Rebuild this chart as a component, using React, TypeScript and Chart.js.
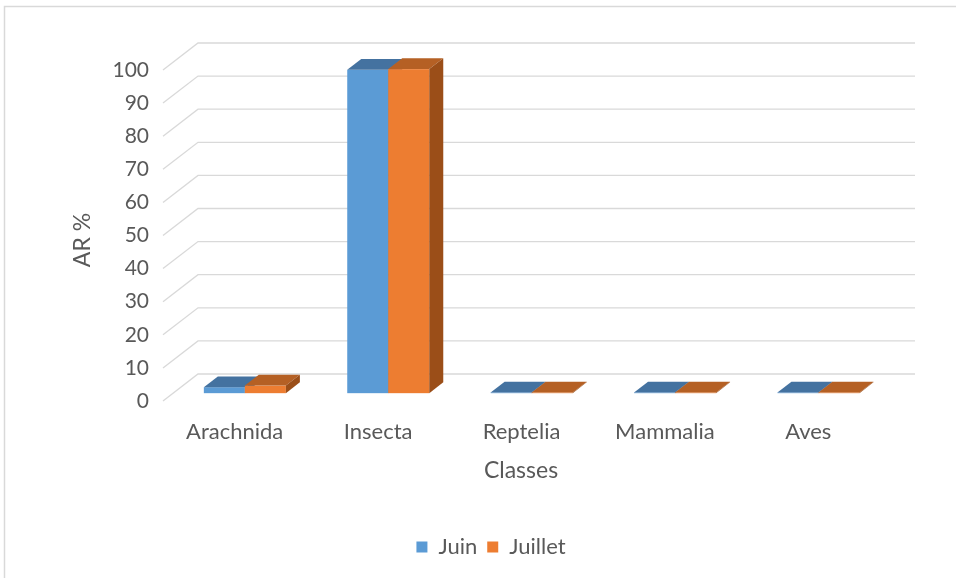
import React, { useEffect, useRef } from "react";
import { Chart, registerables } from "chart.js";

Chart.register(...registerables);

// Relative abundance (AR %) of prey classes per month
const classes = ["Arachnida", "Insecta", "Reptelia", "Mammalia", "Aves"];
const juin = [1.8, 97.7, 0.2, 0.2, 0.2];
const juillet = [2.3, 97.9, 0.2, 0.2, 0.2];
const yTicks = [0, 10, 20, 30, 40, 50, 60, 70, 80, 90, 100];

const FONT = "Lato, 'Open Sans', sans-serif";
const TEXT = "#595959";
const GRID = "#d9d9d9";

// oblique projection of the back wall
const WALL_DX = 35;
const WALL_DY = -27;
const BAR_SHIFT = 0.29; // bars sit this far into the depth
const BAR_DEPTH = 0.4; // thickness of each bar along the depth

const faces = [
  { front: "#5b9bd5", top: "#4472a0", side: "#3f6a95" },
  { front: "#ed7d31", top: "#b56024", side: "#9b4e18" },
];

const wall3d = {
  id: "wall3d",
  beforeDraw(chart: any) {
    const { ctx } = chart;
    ctx.save();
    ctx.fillStyle = "#ffffff";
    ctx.fillRect(0, 0, chart.width, chart.height);
    ctx.strokeStyle = GRID;
    ctx.lineWidth = 1.5;
    ctx.beginPath();
    ctx.moveTo(4.5, chart.height);
    ctx.lineTo(4.5, 6.5);
    ctx.lineTo(chart.width, 6.5);
    ctx.stroke();
    ctx.restore();
  },
  beforeDatasetsDraw(chart: any) {
    const { ctx, chartArea } = chart;
    const yScale = chart.scales.y;
    ctx.save();
    ctx.strokeStyle = GRID;
    ctx.lineWidth = 1.3;
    for (const t of yTicks) {
      const py = yScale.getPixelForValue(t);
      ctx.beginPath();
      ctx.moveTo(chartArea.left, py);
      ctx.lineTo(chartArea.left + WALL_DX, py + WALL_DY);
      ctx.lineTo(chartArea.right + WALL_DX, py + WALL_DY);
      ctx.stroke();
    }

    const sx = WALL_DX * BAR_SHIFT;
    const sy = WALL_DY * BAR_SHIFT;
    const ddx = WALL_DX * BAR_DEPTH;
    const ddy = WALL_DY * BAR_DEPTH;
    const metas = chart.data.datasets.map((_: any, i: number) => chart.getDatasetMeta(i));
    for (let i = 0; i < classes.length; i++) {
      metas.forEach((meta: any, d: number) => {
        const el = meta.data[i];
        const { x, y, base, width } = el.getProps(["x", "y", "base", "width"], true);
        const c = faces[d];
        const l = x - width / 2 + sx;
        const r = x + width / 2 + sx;
        const t = y + sy;
        const b = base + sy;
        // front
        ctx.fillStyle = c.front;
        ctx.fillRect(l, t, r - l, b - t);
        // top
        ctx.fillStyle = c.top;
        ctx.beginPath();
        ctx.moveTo(l, t);
        ctx.lineTo(l + ddx, t + ddy);
        ctx.lineTo(r + ddx, t + ddy);
        ctx.lineTo(r, t);
        ctx.closePath();
        ctx.fill();
        // side
        ctx.fillStyle = c.side;
        ctx.beginPath();
        ctx.moveTo(r, t);
        ctx.lineTo(r + ddx, t + ddy);
        ctx.lineTo(r + ddx, b + ddy);
        ctx.lineTo(r, b);
        ctx.closePath();
        ctx.fill();
      });
    }
    ctx.restore();
    return false;
  },
  afterDraw(chart: any) {
    const { ctx } = chart;
    ctx.save();
    ctx.fillStyle = TEXT;
    ctx.font = `23px ${FONT}`;
    ctx.textAlign = "center";
    ctx.textBaseline = "middle";
    ctx.fillText("Classes", 521, 471);
    ctx.translate(83, 240);
    ctx.rotate(-Math.PI / 2);
    ctx.fillText("AR %", 0, 0);
    ctx.restore();
  },
};

export default function App() {
  const ref = useRef<HTMLCanvasElement | null>(null);

  useEffect(() => {
    if (!ref.current) return;
    const chart = new Chart(ref.current, {
      type: "bar",
      data: {
        labels: classes,
        datasets: [
          { label: "Juin", data: juin, backgroundColor: faces[0].front, borderWidth: 0 },
          { label: "Juillet", data: juillet, backgroundColor: faces[1].front, borderWidth: 0 },
        ],
      },
      options: {
        responsive: false,
        animation: false,
        events: [],
        layout: { padding: { top: 70, right: 0, left: 26, bottom: 10 } },
        datasets: { bar: { categoryPercentage: 0.572, barPercentage: 1 } },
        scales: {
          x: {
            grid: { display: false, drawTicks: false },
            border: { display: false },
            ticks: { color: TEXT, font: { family: FONT, size: 22 }, padding: 18, maxRotation: 0 },
            afterFit: (s: any) => {
              s.height = 125;
            },
          },
          y: {
            min: 0,
            max: 100,
            grid: { display: false, drawTicks: false },
            border: { display: false },
            ticks: {
              color: TEXT,
              font: { family: FONT, size: 21 },
              padding: 14,
              stepSize: 10,
              callback: (v: any) => (yTicks.includes(v) ? String(v) : ""),
            },
            afterFit: (s: any) => {
              s.width = 137;
            },
          },
          // empty right margin so the legend centres under the whole figure
          edge: {
            type: "linear",
            position: "right",
            display: true,
            grid: { display: false, drawTicks: false },
            border: { display: false },
            ticks: { display: false },
            afterFit: (s: any) => {
              s.width = 76;
            },
          },
        },
        plugins: {
          legend: {
            position: "bottom",
            labels: {
              color: TEXT,
              font: { family: FONT, size: 22 },
              boxWidth: 11,
              boxHeight: 11,
              padding: 10,
            },
          },
          tooltip: { enabled: false },
        },
      },
      plugins: [wall3d],
    });
    return () => chart.destroy();
  }, []);

  return (
    <div style={{ position: "fixed", left: 0, top: 0, width: 956, height: 578, background: "#fff" }}>
      <canvas ref={ref} width={956} height={578} style={{ display: "block" }} />
    </div>
  );
}
